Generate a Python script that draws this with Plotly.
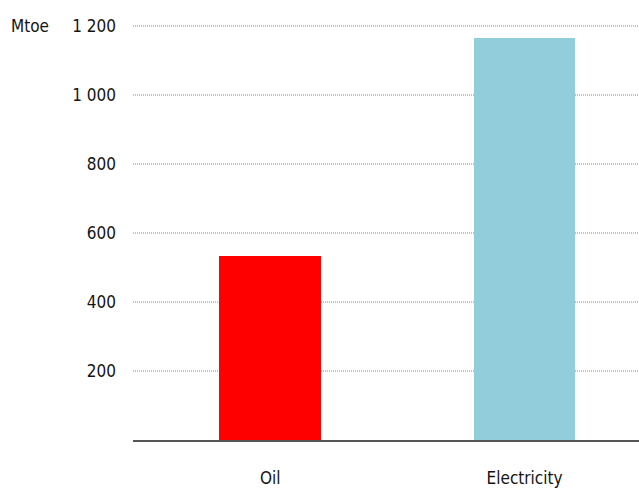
import plotly.graph_objects as go

# Final energy by carrier (Mtoe)
categories = ["Oil", "Electricity"]
values = [533, 1165]
bar_colors = ["#ff0000", "#92cddc"]

y_tick_values = [200, 400, 600, 800, 1000, 1200]
y_tick_labels = ["200", "400", "600", "800", "1 000", "1 200"]
unit_label = "Mtoe"

FONT = "DejaVu Sans Condensed, Liberation Sans Narrow, sans-serif"
TEXT_COLOR = "#141414"
FONT_SIZE = 17

fig = go.Figure(
    go.Bar(
        x=categories,
        y=values,
        marker=dict(color=bar_colors, line=dict(width=0)),
        width=0.4,
        hoverinfo="x+y",
    )
)

fig.update_layout(
    width=639,
    height=490,
    margin=dict(l=133, r=0, t=24, b=50),
    paper_bgcolor="white",
    plot_bgcolor="white",
    showlegend=False,
    font=dict(family=FONT, size=FONT_SIZE, color=TEXT_COLOR),
    bargap=0,
)

fig.update_xaxes(
    range=[-0.54, 1.45],
    showgrid=False,
    showline=True,
    linecolor="#555555",
    linewidth=2,
    ticks="",
    ticklabelstandoff=22,
    tickfont=dict(family=FONT, size=FONT_SIZE, color=TEXT_COLOR),
)

fig.update_yaxes(
    range=[0, 1206],
    tickvals=y_tick_values,
    ticktext=y_tick_labels,
    showgrid=True,
    gridcolor="#c2c2c2",
    gridwidth=2,
    griddash="1px,1px",
    zeroline=False,
    showline=False,
    ticks="",
    ticklabelstandoff=16,
    tickfont=dict(family=FONT, size=FONT_SIZE, color=TEXT_COLOR),
)

fig.add_annotation(
    text=unit_label,
    xref="paper", yref="y",
    x=-124 / 506, y=1200,
    xanchor="left", yanchor="middle",
    showarrow=False,
    font=dict(family=FONT, size=FONT_SIZE, color=TEXT_COLOR),
)

fig.write_html("out.html")
